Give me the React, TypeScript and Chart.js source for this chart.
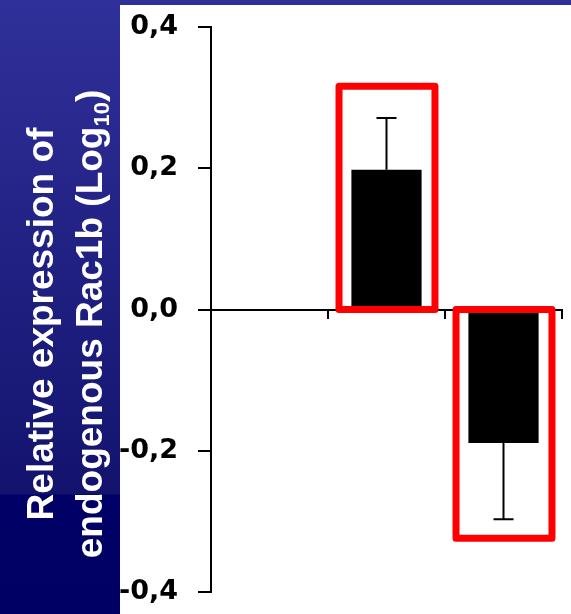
import React, { useEffect, useRef } from 'react';
import { Chart, registerables } from 'chart.js';

Chart.register(...registerables);

// ---- data ----
const categories = ['Control', 'Rac1b A', 'Rac1b B'];
const meanValues = [0, 0.198, -0.189];
const errorValues = [0, 0.073, 0.108];
const highlightFrom: (number | null)[] = [null, 0, 0];
const highlightTo: (number | null)[] = [null, 0.316, -0.324];
const yMin = -0.4;
const yMax = 0.4;
const yStep = 0.2;
const titleLine1 = 'Relative expression of';
const titleLine2Main = 'endogenous Rac1b (Log';
const titleLine2Sub = '10';
const titleLine2End = ')';

const TITLE_FONT = 'bold 37px "Liberation Sans", Arial, sans-serif';
const SUB_FONT = 'bold 22px "Liberation Sans", Arial, sans-serif';

const backdropPlugin = {
  id: 'backdrop',
  beforeDraw(chart: any) {
    const { ctx, width, height } = chart;
    ctx.save();
    const g = ctx.createLinearGradient(0, 0, 0, height);
    g.addColorStop(0, '#30309a');
    g.addColorStop(0.804, '#13136e');
    g.addColorStop(0.806, '#000066');
    g.addColorStop(1, '#000064');
    ctx.fillStyle = g;
    ctx.fillRect(0, 0, width, height);
    ctx.fillStyle = '#ffffff';
    ctx.fillRect(120, 5, width - 120, height - 5);

    // rotated axis title
    ctx.fillStyle = '#ffffff';
    ctx.textBaseline = 'alphabetic';
    ctx.textAlign = 'left';
    const cy = 324;
    ctx.font = TITLE_FONT;
    const w1 = ctx.measureText(titleLine1).width;
    ctx.save();
    ctx.translate(53, cy);
    ctx.rotate(-Math.PI / 2);
    ctx.fillText(titleLine1, -w1 / 2, 0);
    ctx.restore();

    ctx.font = TITLE_FONT;
    const wa = ctx.measureText(titleLine2Main).width;
    const wc = ctx.measureText(titleLine2End).width;
    ctx.font = SUB_FONT;
    const wb = ctx.measureText(titleLine2Sub).width;
    const total = wa + wb + wc;
    ctx.save();
    ctx.translate(102, cy);
    ctx.rotate(-Math.PI / 2);
    let x = -total / 2;
    ctx.font = TITLE_FONT;
    ctx.fillText(titleLine2Main, x, 0);
    x += wa;
    ctx.font = SUB_FONT;
    ctx.fillText(titleLine2Sub, x, 7);
    x += wb;
    ctx.font = TITLE_FONT;
    ctx.fillText(titleLine2End, x, 0);
    ctx.restore();
    ctx.restore();
  },
};

const overlayPlugin = {
  id: 'overlay',
  afterDatasetsDraw(chart: any) {
    const { ctx } = chart;
    const xs = chart.scales.x;
    const ys = chart.scales.y;
    const meta = chart.getDatasetMeta(0);
    ctx.save();
    // error bars
    ctx.strokeStyle = '#000000';
    ctx.lineWidth = 2;
    meanValues.forEach((v, i) => {
      const e = errorValues[i];
      if (!e) return;
      const bar = meta.data[i];
      const dir = v >= 0 ? 1 : -1;
      const y0 = ys.getPixelForValue(v);
      const y1 = ys.getPixelForValue(v + dir * e);
      ctx.beginPath();
      ctx.moveTo(bar.x, y0);
      ctx.lineTo(bar.x, y1);
      ctx.moveTo(bar.x - 10, y1);
      ctx.lineTo(bar.x + 10, y1);
      ctx.stroke();
    });
    // highlight boxes
    const catW = xs.getPixelForValue(1) - xs.getPixelForValue(0);
    ctx.strokeStyle = '#ff0000';
    ctx.lineWidth = 7;
    ctx.lineJoin = 'round';
    categories.forEach((_, i) => {
      const a = highlightFrom[i];
      const b = highlightTo[i];
      if (a === null || b === null) return;
      const cx = xs.getPixelForValue(i) + 0.5;
      const half = catW * 0.41;
      const ya = ys.getPixelForValue(a);
      const yb = ys.getPixelForValue(b);
      ctx.strokeRect(cx - half, Math.min(ya, yb), half * 2, Math.abs(yb - ya));
    });
    ctx.restore();
  },
};

export default function App() {
  const ref = useRef<HTMLCanvasElement | null>(null);
  useEffect(() => {
    if (!ref.current) return;
    const chart = new Chart(ref.current, {
      type: 'bar',
      data: {
        labels: categories,
        datasets: [
          {
            data: meanValues,
            backgroundColor: '#000000',
            borderWidth: 0,
            barPercentage: 0.6,
            categoryPercentage: 1,
          },
        ],
      },
      options: {
        responsive: false,
        animation: false,
        devicePixelRatio: 1,
        layout: { padding: { left: 0, top: 27, right: 9, bottom: 22 } },
        plugins: {
          legend: { display: false },
          tooltip: { enabled: false },
          title: { display: false },
        },
        scales: {
          x: {
            type: 'category',
            position: { y: 0 } as any,
            offset: true,
            grid: {
              offset: true,
              drawOnChartArea: false,
              drawTicks: true,
              tickLength: 8,
              color: '#000000',
              lineWidth: 2,
            },
            border: { display: true, color: '#000000', width: 2 },
            ticks: { display: false },
          },
          y: {
            type: 'linear',
            position: 'left',
            min: yMin,
            max: yMax,
            afterFit(scale: any) {
              scale.width = 211;
              scale.paddingTop = 0;
              scale.paddingBottom = 0;
            },
            grid: {
              drawOnChartArea: false,
              drawTicks: true,
              tickLength: 13,
              color: '#000000',
              lineWidth: 2,
            },
            border: { display: true, color: '#000000', width: 2 },
            ticks: {
              stepSize: yStep,
              padding: 20,
              color: '#000000',
              font: { family: '"DejaVu Sans", sans-serif', size: 27, weight: 'bold' },
              callback: (v: any) => {
                const n = Math.abs(Number(v)) < 1e-9 ? 0 : Number(v);
                return n.toFixed(1).replace('.', ',');
              },
            },
          },
        },
      },
      plugins: [backdropPlugin, overlayPlugin],
    });
    return () => chart.destroy();
  }, []);
  return (
    <div style={{ position: 'fixed', left: 0, top: 0, width: 571, height: 614 }}>
      <canvas ref={ref} width={571} height={614} />
    </div>
  );
}
